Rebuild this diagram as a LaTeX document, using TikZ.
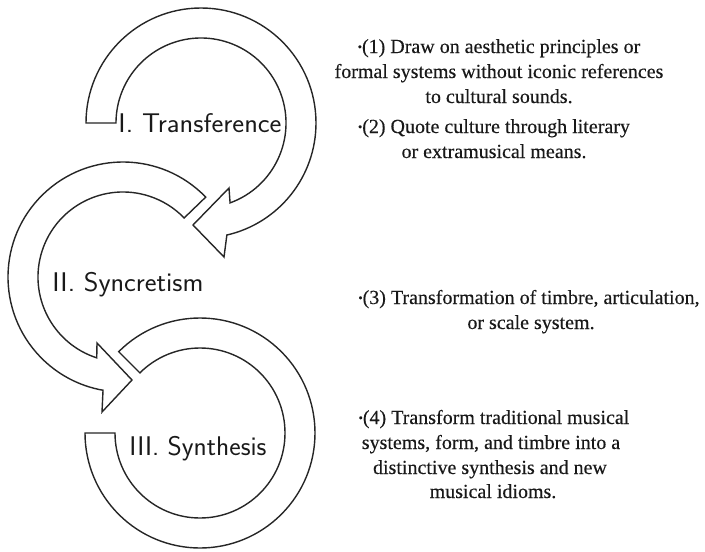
\documentclass[tikz,border=0pt]{standalone}
\usepackage{fontspec}
\usepackage{graphicx}
\newfontfamily\bodyfont{Liberation Serif}[FakeBold=0.35]
\usetikzlibrary{calc}
\tikzset{
  band/.style={draw=black!85, line width=1.4pt, line join=miter, fill=white},
  hand/.style={anchor=base, inner sep=0pt, text=black!90, font=\sffamily\fontsize{27}{30}\selectfont},
  note/.style={anchor=base, inner sep=0pt, text=black!90, font=\bodyfont\fontsize{20}{24}\selectfont}
}
\newcommand{\bul}{{\fontsize{12}{12}\selectfont\raisebox{2.2pt}{•}}}
\begin{document}
\begin{tikzpicture}[x=1pt,y=1pt]
\useasboundingbox (0,0) rectangle (705,-552);
\coordinate (c1) at (201,-123);
\coordinate (c2) at (123,-277);
\coordinate (c3) at (200,-433);
% Arrow I
\draw[band] ($(c1)+(180:115)$) arc[start angle=180, end angle=-77, radius=115]
  -- (224,-257) -- (193,-225) -- (229,-188)
  -- ($(c1)+(-70:85)$) arc[start angle=-70, end angle=180, radius=85] -- cycle;
% Arrow II
\draw[band] ($(c2)+(44:115)$) arc[start angle=44, end angle=260, radius=115]
  -- (102,-412) -- (132,-380) -- (97,-343)
  -- ($(c2)+(252:85)$) arc[start angle=252, end angle=44, radius=85] -- cycle;
% Arrow III
\draw[band] ($(c3)+(135:115)$) arc[start angle=135, end angle=-180, radius=115]
  -- ($(c3)+(180:85)$) arc[start angle=-180, end angle=135, radius=85] -- cycle;
% stage labels
\node[hand] (l1) at (200,-132) {\resizebox{163pt}{\height}{I. Transference}};
\node[hand] (l2) at (128,-291) {\resizebox{151pt}{\height}{II. Syncretism}};
\node[hand] (l3) at (198,-455) {\resizebox{137pt}{\height}{III. Synthesis}};
% notes
\node[note] (n1a) at (499,-53) {\bul(1) Draw on aesthetic principles or};
\node[note] (n1b) at (499,-78) {formal systems without iconic references};
\node[note] (n1c) at (499,-103) {to cultural sounds.};
\node[note] (n2a) at (494,-133) {\bul(2) Quote culture through literary};
\node[note] (n2b) at (494,-158) {or extramusical means.};
\node[note] (n3a) at (529,-304) {\bul(3) Transformation of timbre, articulation,};
\node[note] (n3b) at (531,-329) {or scale system.};
\node[note] (n4a) at (494,-424) {\bul(4) Transform traditional musical};
\node[note] (n4b) at (491,-449) {systems, form, and timbre into a};
\node[note] (n4c) at (490,-474) {distinctive synthesis and new};
\node[note] (n4d) at (493,-498) {musical idioms.};
\end{tikzpicture}
\end{document}
